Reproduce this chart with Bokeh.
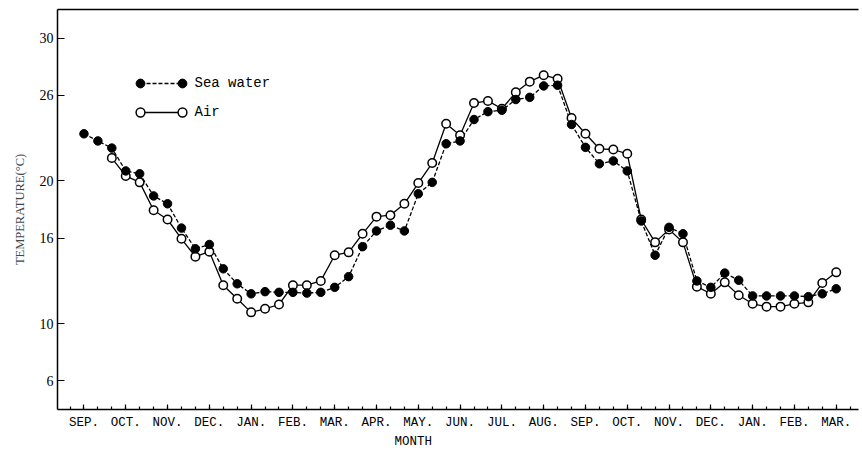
from bokeh.plotting import figure
from bokeh.models import FixedTicker, LinearAxis, Legend, LegendItem, Title, ColumnDataSource
from bokeh.core.properties import value
from bokeh.embed import file_html
from bokeh.resources import INLINE

# 10-day observations, index 0 = early September (first year) ... 54 = March (second year)
month_labels = ["SEP.", "OCT.", "NOV.", "DEC.", "JAN.", "FEB.", "MAR.", "APR.", "MAY.",
                "JUN.", "JUL.", "AUG.", "SEP.", "OCT.", "NOV.", "DEC.", "JAN.", "FEB.", "MAR."]
month_index = [3 * k for k in range(len(month_labels))]

sea_x = list(range(55))
sea_water = [23.3, 22.8, 22.3, 20.7, 20.5, 18.95, 18.4, 16.7, 15.25, 15.55,
             13.85, 12.8, 12.1, 12.25, 12.2, 12.2, 12.15, 12.2, 12.55, 13.3,
             15.4, 16.5, 16.9, 16.5, 19.1, 19.9, 22.6, 22.8, 24.3, 24.85,
             24.95, 25.7, 25.85, 26.65, 26.7, 23.95, 22.35, 21.2, 21.4, 20.7,
             17.2, 14.8, 16.75, 16.3, 13.0, 12.55, 13.55, 13.05, 11.95, 11.95,
             11.95, 11.95, 11.9, 12.1, 12.45]

air_x = list(range(2, 55))
air = [21.6, 20.35, 19.9, 17.95, 17.3, 15.95, 14.7, 15.05,
       12.7, 11.75, 10.8, 11.05, 11.35, 12.7, 12.7, 13.0, 14.8, 15.0,
       16.3, 17.5, 17.6, 18.4, 19.85, 21.25, 24.0, 23.2, 25.45, 25.6,
       25.05, 26.2, 26.95, 27.4, 27.15, 24.4, 23.3, 22.25, 22.2, 21.9,
       17.3, 15.7, 16.6, 15.7, 12.6, 12.1, 12.9, 12.0, 11.4, 11.2,
       11.2, 11.4, 11.5, 12.85, 13.6]

y_ticks = [6, 10, 16, 20, 26, 30]

sea_src = ColumnDataSource(dict(x=sea_x, y=sea_water))
air_src = ColumnDataSource(dict(x=air_x, y=air))

p = figure(width=862, height=451, x_range=(-1.9, 55.6), y_range=(4, 32),
           output_backend="svg", toolbar_location=None,
           min_border_left=57, min_border_right=4, min_border_top=9, min_border_bottom=42)
p.outline_line_color = None
p.grid.visible = False
p.background_fill_color = "white"

LW = 1.3
sea_line = p.line("x", "y", source=sea_src, line_color="black", line_width=LW, line_dash="4 2")
air_line = p.line("x", "y", source=air_src, line_color="black", line_width=LW)
air_pts = p.scatter("x", "y", source=air_src, marker="circle", size=8.5,
                    fill_color="white", line_color="black", line_width=1.5)
sea_pts = p.scatter("x", "y", source=sea_src, marker="circle", size=8.5,
                    fill_color="black", line_color="black", line_width=1)

# x axis
xa = p.xaxis[0]
xa.ticker = FixedTicker(ticks=month_index, minor_ticks=list(range(-1, 56)))
xa.major_label_overrides = {i: lab for i, lab in zip(month_index, month_labels)}
xa.major_tick_in = 5
xa.major_tick_out = 0
xa.minor_tick_in = 3
xa.minor_tick_out = 0
xa.axis_line_width = 1.5
xa.major_tick_line_width = 1.2
xa.minor_tick_line_width = 1.2
xa.major_label_standoff = 6
xa.major_label_text_font = "Liberation Mono"
xa.major_label_text_font_size = "12.5px"
xa.major_label_text_color = "black"

# y axis
ya = p.yaxis[0]
ya.ticker = FixedTicker(ticks=y_ticks)
ya.major_tick_in = 7
ya.major_tick_out = 0
ya.minor_tick_line_color = None
ya.axis_line_width = 1.5
ya.major_tick_line_width = 1.2
ya.major_label_standoff = 4
ya.major_label_text_font = "Liberation Serif"
ya.major_label_text_font_size = "14px"
ya.major_label_text_color = "black"
ya.axis_label = "TEMPERATURE(\u00b0C)"
ya.axis_label_text_font = "Liberation Serif"
ya.axis_label_text_font_size = "12.5px"
ya.axis_label_text_font_style = "normal"
ya.axis_label_standoff = 10

# top frame line
top = LinearAxis(ticker=FixedTicker(ticks=[]), axis_line_width=1.5,
                 major_tick_line_color=None, minor_tick_line_color=None,
                 major_label_text_font_size="0px", major_label_standoff=0)
p.add_layout(top, "above")

# x axis title, placed left of centre as in the original
p.add_layout(Title(text="MONTH", align="left", offset=337, standoff=1,
                   text_font="Liberation Mono", text_font_size="12.5px",
                   text_font_style="normal", text_color="black"), "below")

common = dict(glyph_height=22, label_height=22, spacing=7, padding=0, margin=0,
              border_line_color=None, background_fill_alpha=0,
              label_text_font="Liberation Mono", label_text_font_size="14px",
              label_text_color="black")
legend = Legend(items=[LegendItem(label="Sea water", renderers=[sea_line]),
                       LegendItem(label="Air", renderers=[air_line])],
                location=(82.5, 286), glyph_width=42, label_standoff=13, **common)
left_marks = Legend(items=[LegendItem(label=value(""), renderers=[sea_pts]),
                           LegendItem(label=value(""), renderers=[air_pts])],
                    location=(71.5, 286), glyph_width=22, label_standoff=0,
                    label_width=0, **common)
right_marks = Legend(items=[LegendItem(label=value(""), renderers=[sea_pts]),
                            LegendItem(label=value(""), renderers=[air_pts])],
                     location=(113.5, 286), glyph_width=22, label_standoff=0,
                     label_width=0, **common)
p.add_layout(legend, "center")
p.add_layout(left_marks, "center")
p.add_layout(right_marks, "center")

open("out.html", "w").write(file_html(p, INLINE))
